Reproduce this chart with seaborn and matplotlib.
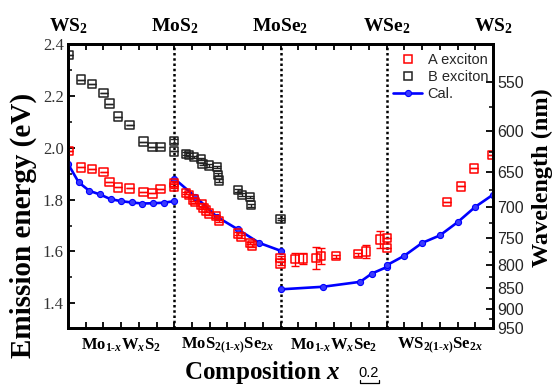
import numpy as np
import pandas as pd
import matplotlib
matplotlib.use("Agg")
import matplotlib.pyplot as plt
from matplotlib.lines import Line2D
import seaborn as sns

# ---- data -------------------------------------------------------------
# composition axis: 0-1 Mo(1-x)W(x)S2, 1-2 MoS2(1-x)Se2x, 2-3 Mo(1-x)W(x)Se2, 3-4 WS2(1-x)Se2x
a_x = [0.01, 0.12, 0.225, 0.335, 0.39, 0.47, 0.58, 0.71, 0.795, 0.87, 1.0, 1.0,
       1.108, 1.139, 1.18, 1.195, 1.258, 1.274, 1.296, 1.33, 1.39, 1.421, 1.603, 1.628, 1.713, 1.729,
       2.0, 2.0, 2.136, 2.209, 2.331, 2.381, 2.522, 2.729, 2.805, 2.936,
       3.0, 3.0, 3.564, 3.696, 3.821, 3.988]
a_e = [1.988, 1.924, 1.917, 1.907, 1.868, 1.847, 1.843, 1.830, 1.824, 1.842, 1.865, 1.848,
       1.826, 1.817, 1.800, 1.791, 1.781, 1.768, 1.758, 1.746, 1.736, 1.717, 1.669, 1.657, 1.633, 1.623,
       1.576, 1.554, 1.570, 1.573, 1.575, 1.583, 1.582, 1.590, 1.600, 1.646,
       1.653, 1.614, 1.792, 1.851, 1.920, 1.972]
a_err = [0, 0, 0, 0, 0, 0, 0, 0, 0, 0, 0.005, 0.005,
         0.005, 0.005, 0.005, 0.005, 0.005, 0.005, 0.005, 0.005, 0.005, 0.005, 0.005, 0.005, 0.005, 0.005,
         0.005, 0.005, 0.026, 0.023, 0.044, 0.031, 0.006, 0.006, 0.026, 0.032,
         0, 0, 0, 0, 0, 0]

b_x = [0.01, 0.12, 0.225, 0.335, 0.39, 0.47, 0.58, 0.71, 0.795, 0.87, 1.0, 1.0,
       1.108, 1.139, 1.186, 1.249, 1.267, 1.327, 1.40, 1.409, 1.424, 1.603, 1.635, 1.716, 1.725, 2.0]
b_e = [2.358, 2.263, 2.246, 2.210, 2.170, 2.120, 2.087, 2.024, 2.003, 2.003, 2.026, 1.986,
       1.977, 1.973, 1.964, 1.956, 1.938, 1.931, 1.926, 1.896, 1.874, 1.836, 1.819, 1.810, 1.778, 1.726]
b_err = [0, 0, 0, 0, 0, 0, 0, 0, 0, 0, 0.006, 0,
         0.005, 0.005, 0.005, 0.005, 0.005, 0.005, 0.005, 0.005, 0.005, 0.005, 0.005, 0.005, 0.005, 0.005]

cal_x = [0.0, 0.1, 0.2, 0.3, 0.4, 0.5, 0.6, 0.7, 0.8, 0.9, 1.0,
         1.0, 1.2, 1.4, 1.6, 1.8, 2.0,
         2.0, 2.4, 2.75, 2.86, 3.0,
         3.0, 3.167, 3.333, 3.5, 3.667, 3.833, 4.0]
cal_e = [1.938, 1.867, 1.834, 1.820, 1.802, 1.794, 1.789, 1.785, 1.786, 1.788, 1.794,
         1.881, 1.811, 1.734, 1.685, 1.633, 1.603,
         1.454, 1.464, 1.483, 1.515, 1.540,
         1.547, 1.584, 1.633, 1.662, 1.713, 1.772, 1.819]
cal_seg = [1] * 11 + [2] * 6 + [3] * 5 + [4] * 7

end_labels = [r"WS$_\mathbf{2}$", r"MoS$_\mathbf{2}$", r"MoSe$_\mathbf{2}$", r"WSe$_\mathbf{2}$", r"WS$_\mathbf{2}$"]
alloy_labels = [r"Mo$_{\mathbf{1\text{-}}x}$W$_x$S$_\mathbf{2}$",
                r"MoS$_{\mathbf{2(1\text{-}}x\mathbf{)}}$Se$_{\mathbf{2}x}$",
                r"Mo$_{\mathbf{1\text{-}}x}$W$_x$Se$_\mathbf{2}$",
                r"WS$_{\mathbf{2(1\text{-}}x\mathbf{)}}$Se$_{\mathbf{2}x}$"]
wavelengths = [550, 600, 650, 700, 750, 800, 850, 900, 950]
wl_minor = [575, 625, 675, 725, 775, 825, 875, 925]

# ---- style ------------------------------------------------------------
sns.set_theme(style="ticks")
plt.rcParams["font.family"] = ["Liberation Serif", "DejaVu Serif"]
plt.rcParams["mathtext.fontset"] = "custom"
plt.rcParams["mathtext.rm"] = "Liberation Serif:bold"
plt.rcParams["mathtext.bf"] = "Liberation Serif:bold"
plt.rcParams["mathtext.it"] = "Liberation Serif:bold:italic"

HC = 1239.84
ymin, ymax = 1.305, 2.4

fig = plt.figure(figsize=(5.55, 3.85), dpi=100)
ax = fig.add_axes([68 / 555, 1 - 328 / 385, (493 - 68) / 555, (328 - 44) / 385])

for xv in (1, 2, 3):
    ax.axvline(xv, color="black", ls=(0, (1, 1.1)), lw=1.8, zorder=1)

cal = pd.DataFrame({"x": cal_x, "E": cal_e, "seg": cal_seg})
sns.lineplot(data=cal, x="x", y="E", units="seg", estimator=None, sort=False,
             color="#0000ff", lw=1.9, marker="o", markersize=4.4,
             markerfacecolor="#3a3aff", markeredgecolor="#0000ff", markeredgewidth=0.8,
             ax=ax, zorder=3, legend=False)

ax.errorbar(a_x, a_e, yerr=a_err, fmt="none", ecolor="red", elinewidth=1.0,
            capsize=2.6, capthick=1.0, zorder=4)
ax.errorbar(b_x, b_e, yerr=b_err, fmt="none", ecolor="#222222", elinewidth=1.0,
            capsize=2.6, capthick=1.0, zorder=4)
sns.scatterplot(x=b_x, y=b_e, marker="s", s=36, facecolors="none",
                edgecolor="#222222", linewidth=1.1, ax=ax, zorder=5)
sns.scatterplot(x=a_x, y=a_e, marker="s", s=36, facecolors="none",
                edgecolor="red", linewidth=1.1, ax=ax, zorder=5)

ax.set_xlim(0, 4)
ax.set_ylim(ymin, ymax)
ax.set_xlabel("")
ax.set_ylabel("")

# x ticks: six divisions per alloy section, no numbers
ax.set_xticks(np.arange(0, 4.001, 1 / 6))
ax.set_xticklabels([])
ax.tick_params(axis="x", which="both", direction="in", top=True, bottom=True,
               length=4, width=1.3, color="black")

ax.set_yticks([1.4, 1.6, 1.8, 2.0, 2.2, 2.4])
ax.set_yticks([1.5, 1.7, 1.9, 2.1, 2.3], minor=True)
ax.set_yticklabels(["1.4", "1.6", "1.8", "2.0", "2.2", "2.4"])
ax.tick_params(axis="y", which="major", direction="in", length=5, width=1.3,
               labelsize=12, pad=3, color="black", labelcolor="#333333")
ax.tick_params(axis="y", which="minor", direction="in", length=3, width=1.1, color="black")
ax.tick_params(axis="y", right=False)

for sp in ax.spines.values():
    sp.set_linewidth(2.0)
    sp.set_color("black")

# wavelength axis on the right
ax2 = ax.twinx()
ax2.set_ylim(ymin, ymax)
ax2.set_yticks([HC / w for w in wavelengths])
ax2.set_yticklabels([str(w) for w in wavelengths], family="Liberation Sans", fontsize=11.5)
ax2.set_yticks([HC / w for w in wl_minor], minor=True)
ax2.tick_params(axis="y", which="major", direction="in", length=5, width=1.3, pad=3, color="black")
ax2.tick_params(axis="y", which="minor", direction="in", length=3, width=1.1, color="black")
ax2.grid(False)
for sp in ax2.spines.values():
    sp.set_linewidth(2.0)
    sp.set_color("black")

# end-member names above the boundaries
for i, lab in enumerate(end_labels):
    ax.text(i, 1.046, lab, transform=ax.get_xaxis_transform(), ha="center", va="baseline",
            fontsize=14, fontweight="bold", color="black")

# alloy names below each section
for i, lab in enumerate(alloy_labels):
    ax.text(i + 0.5, -0.075, lab, transform=ax.get_xaxis_transform(), ha="center", va="baseline",
            fontsize=12, fontweight="bold", color="black")

fig.text(23 / 555, 1 - 225 / 385, "Emission energy (eV)", rotation=90, ha="center", va="center",
         fontsize=21, fontweight="bold", color="black")
fig.text(542 / 555, 1 - 178 / 385, "Wavelength (nm)", rotation=90, ha="center", va="center",
         fontsize=17.5, fontweight="bold", color="black")
fig.text(262 / 555, 1 - 379 / 385, r"Composition $x$", ha="center", va="baseline",
         fontsize=18, fontweight="bold", color="black")

# scale mark under the axis
fig.text(369 / 555, 1 - 377 / 385, "0.2", ha="center", va="baseline",
         family="Liberation Sans", fontsize=10.5, color="black")
fig.add_artist(Line2D([360 / 555, 360 / 555, 379 / 555, 379 / 555],
                      [1 - 380 / 385, 1 - 383 / 385, 1 - 383 / 385, 1 - 380 / 385],
                      color="black", lw=0.9))

handles = [
    Line2D([], [], marker="s", ls="none", mfc="none", mec="red", mew=1.1, markersize=6),
    Line2D([], [], marker="s", ls="none", mfc="none", mec="#222222", mew=1.1, markersize=6),
    Line2D([], [], marker="o", color="#0000ff", lw=1.9, markersize=4.4,
           mfc="#3a3aff", mec="#0000ff", mew=0.8),
]
ax.legend(handles, ["A exciton", "B exciton", "Cal."], loc="upper left",
          bbox_to_anchor=((386 - 68) / 425, 0.993), frameon=False, borderpad=0,
          handlelength=2.0, handletextpad=0.35, labelspacing=0.2,
          prop={"family": "Liberation Sans", "size": 10.5})

fig.savefig("out.png", dpi=100)
